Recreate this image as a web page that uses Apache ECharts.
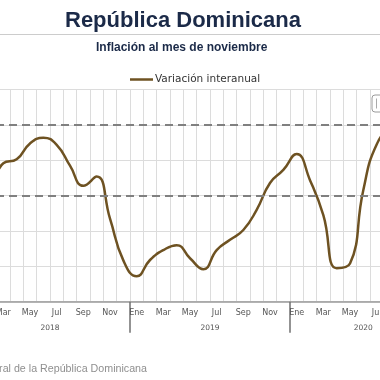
<!DOCTYPE html>
<html><head><meta charset="utf-8">
<script src="https://cdn.jsdelivr.net/npm/echarts@6/dist/echarts.min.js"></script>
<style>html,body{margin:0;padding:0;background:#fff;overflow:hidden}#c{width:380px;height:380px}</style>
</head><body><div id="c"></div>
<script>
// ---- data ----
const monthNames = ['Ene','Feb','Mar','Abr','May','Jun','Jul','Ago','Sep','Oct','Nov','Dic'];
const years = ['2018','2019','2020'];
const monthsPerYear = [12, 12, 11];
const values2018 = [3.90, 3.35, 3.92, 4.03, 4.48, 4.64, 4.44, 3.85, 3.28, 3.54, 2.35, 1.17];
const values2019 = [0.72, 1.18, 1.46, 1.60, 1.23, 0.92, 1.46, 1.75, 2.03, 2.60, 3.36, 3.73];
const values2020 = [4.18, 3.44, 2.45, 0.95, 1.08, 3.16, 4.45, 4.80, 4.60, 4.65, 5.30];
const targetBand = [3, 5];
const yMin = 0, yMax = 6, yStep = 1;
const seriesName = 'Variación interanual';
const titleText = 'República Dominicana';
const subtitleText = 'Inflación al mes de noviembre';
const creditText = 'Fuente: Banco Central de la República Dominicana';

// ---- derived ----
const categories = [];
years.forEach((y, i) => { for (let m = 0; m < monthsPerYear[i]; m++) categories.push(monthNames[m]); });
const values = values2018.concat(values2019, values2020);
const yearStarts = [];
let acc = 0;
const yearCenters = monthsPerYear.map(n => { yearStarts.push(acc); const c = acc + n / 2; acc += n; return c; });

const chart = echarts.init(document.getElementById('c'), null, {renderer: 'canvas'});
chart.setOption({
  animation: false,
  backgroundColor: '#ffffff',
  title: [
    {text: titleText, left: 65, top: 10, padding: 0,
     textStyle: {color: '#1b2a48', fontSize: 22, fontWeight: 'bold', fontFamily: 'Liberation Sans, Arial, sans-serif'}},
    {text: subtitleText, left: 96, top: 41.5, padding: 0,
     textStyle: {color: '#1b2a48', fontSize: 12, fontWeight: 'bold', fontFamily: 'Liberation Sans, Arial, sans-serif'}}
  ],
  legend: {
    data: [seriesName], left: 130, top: 74, padding: 0,
    icon: 'rect', itemWidth: 23, itemHeight: 2.5,
    textStyle: {color: '#333333', fontSize: 10.5, fontFamily: 'DejaVu Sans', padding: [0,0,0,-3]}
  },
  grid: {left: -30, right: -56.67, top: 89.7, bottom: 78.3, containLabel: false, outerBoundsMode: 'none'},
  xAxis: [
    {
      type: 'category', data: categories, boundaryGap: true,
      axisLine: {lineStyle: {color: '#9a9a9a', width: 1.5}},
      axisTick: {show: true, interval: (i) => yearStarts.indexOf(i) >= 0, length: 31, lineStyle: {color: '#707070', width: 1.5}},
      axisLabel: {interval: 1, color: '#555555', fontSize: 8, fontFamily: 'DejaVu Sans', margin: 7},
      splitLine: {show: true, interval: 0, lineStyle: {color: '#dcdcdc', width: 1}}
    },
    {
      type: 'value', min: 0, max: categories.length, position: 'bottom',
      axisLine: {show: false}, axisTick: {show: false}, splitLine: {show: false},
      axisLabel: {customValues: yearCenters, formatter: v => years[yearCenters.indexOf(v)] || '',
                  color: '#555555', fontSize: 7.5, fontFamily: 'DejaVu Sans', margin: 22}
    }
  ],
  yAxis: {
    type: 'value', min: yMin, max: yMax, interval: yStep,
    axisLabel: {show: false}, axisLine: {show: false}, axisTick: {show: false},
    splitLine: {lineStyle: {color: '#dcdcdc', width: 1}}
  },
  series: [{
    name: seriesName, type: 'line', data: values, smooth: true,
    showSymbol: false, symbol: 'none',
    lineStyle: {color: '#6e5222', width: 2.5},
    itemStyle: {color: '#6e5222'},
    markLine: {
      silent: true, symbol: 'none', label: {show: false},
      lineStyle: {color: '#808080', width: 2, type: [8, 5]},
      data: targetBand.map(v => ({yAxis: v}))
    }
  }],
  graphic: [
    {type: 'line', shape: {x1: 0, y1: 34.5, x2: 380, y2: 34.5}, style: {stroke: '#cccccc', lineWidth: 1}},
    {type: 'text', x: 147, y: 369, style: {text: creditText, align: 'right', verticalAlign: 'middle',
      fill: '#8f8f8f', fontSize: 10.7, fontFamily: 'Liberation Sans, Arial, sans-serif'}},
    {type: 'rect', shape: {x: 372, y: 95, width: 24, height: 17, r: 3}, style: {fill: '#ffffff', stroke: '#9a9a9a', lineWidth: 1}},
    {type: 'line', shape: {x1: 376.5, y1: 98.5, x2: 376.5, y2: 108.5}, style: {stroke: '#aaaaaa', lineWidth: 1}}
  ]
});
</script></body></html>
